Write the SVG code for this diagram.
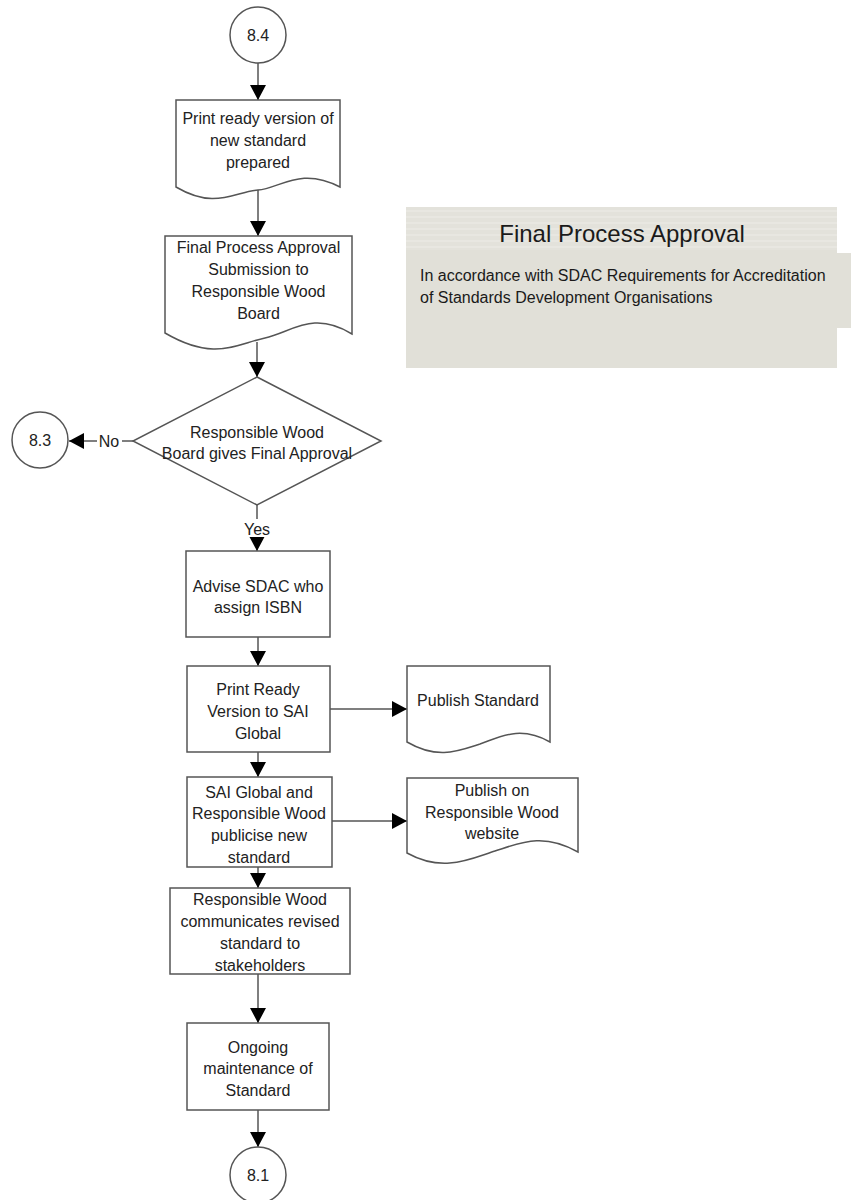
<svg xmlns="http://www.w3.org/2000/svg" width="851" height="1200" viewBox="0 0 851 1200">
<style>
.shape{fill:#fff;stroke:#555;stroke-width:1.5}
.conn{fill:none;stroke:#555;stroke-width:1.5}
.t{font-family:"Liberation Sans",Arial,sans-serif;font-size:16px;fill:#222;text-anchor:middle}
.lbl{font-family:"Liberation Sans",Arial,sans-serif;font-size:16px;fill:#222;text-anchor:middle}
.ptitle{font-family:"Liberation Sans",Arial,sans-serif;font-size:24px;fill:#1a1a1a;text-anchor:middle}
.pbody{font-family:"Liberation Sans",Arial,sans-serif;font-size:16px;fill:#1a1a1a}
</style>
<defs>
<marker id="arr" viewBox="0 0 15 16" refX="15" refY="8" markerWidth="15" markerHeight="16" markerUnits="userSpaceOnUse" orient="auto">
<path d="M0,0 L15,8 L0,16 z" fill="#000"/>
</marker>
<pattern id="stripes" width="10" height="6" patternUnits="userSpaceOnUse">
<rect width="10" height="6" fill="#e3e2db"/>
<rect y="0" width="10" height="2" fill="#e8e7e1"/>
</pattern>
</defs>
<rect width="851" height="1200" fill="#fff"/>

<g id="panel">
<rect x="837" y="253" width="14" height="75" fill="#e1e0d8"/>
<rect x="406" y="207" width="431" height="161" fill="#e1e0d8"/>
<rect x="406" y="207" width="431" height="43" fill="url(#stripes)"/>
<text class="ptitle" x="622" y="241.5">Final Process Approval</text>
<text class="pbody" x="420" y="281">In accordance with SDAC Requirements for Accreditation</text>
<text class="pbody" x="420" y="303">of Standards Development Organisations</text>
</g>

<g id="connectors">
<line class="conn" x1="258" y1="63" x2="258" y2="100" marker-end="url(#arr)"/>
<line class="conn" x1="258" y1="190" x2="258" y2="236" marker-end="url(#arr)"/>
<line class="conn" x1="257" y1="342" x2="257" y2="377" marker-end="url(#arr)"/>
<line class="conn" x1="152" y1="441" x2="69" y2="441" marker-end="url(#arr)"/>
<line class="conn" x1="257" y1="505" x2="257" y2="551" marker-end="url(#arr)"/>
<line class="conn" x1="258" y1="637" x2="258" y2="666" marker-end="url(#arr)"/>
<line class="conn" x1="330" y1="709" x2="407" y2="709" marker-end="url(#arr)"/>
<line class="conn" x1="258" y1="752" x2="258" y2="777" marker-end="url(#arr)"/>
<line class="conn" x1="327" y1="821" x2="407" y2="821" marker-end="url(#arr)"/>
<line class="conn" x1="258" y1="857" x2="258" y2="888" marker-end="url(#arr)"/>
<line class="conn" x1="258" y1="974" x2="258" y2="1023" marker-end="url(#arr)"/>
<line class="conn" x1="258" y1="1110" x2="258" y2="1147" marker-end="url(#arr)"/>
<rect x="97" y="432" width="25" height="18" fill="#fff"/>
<text class="lbl" x="109" y="446.5">No</text>
<rect x="243" y="519" width="28" height="18" fill="#fff"/>
<text class="lbl" x="257" y="534.5">Yes</text>
</g>

<g id="n84">
<circle class="shape" cx="258" cy="35" r="28"/>
<text class="t" x="258" y="40.5">8.4</text>
</g>

<g id="doc1">
<path class="shape" d="M176,100 H340 V187 C300,166 279,189 258,190 C234,192 215,210 176,187 Z"/>
</g>

<g id="doc2">
<path class="shape" d="M165,236 H352 V334 C313,310 292,332 265,338 C236,344 215,362 165,333 Z"/>
</g>

<g id="decision">
<path class="shape" d="M257,377 L381,441 L257,505 L133,441 Z"/>
</g>

<g id="n83">
<circle class="shape" cx="40" cy="440" r="28"/>
<text class="t" x="40" y="445.5">8.3</text>
</g>

<g id="box1">
<rect class="shape" x="186" y="551" width="144" height="86"/>
<text class="t" x="258" y="591.5">Advise SDAC who</text>
<text class="t" x="258" y="612.5">assign ISBN</text>
</g>

<g id="box2">
<rect class="shape" x="187" y="666" width="143" height="86"/>
<text class="t" x="258" y="694.5">Print Ready</text>
<text class="t" x="258" y="716.5">Version to SAI</text>
<text class="t" x="258" y="738.5">Global</text>
</g>

<g id="pubstd">
<path class="shape" d="M407,666 H550 V742 C520,725 500,737 480,744 C458,751 438,760 407,742 Z"/>
<text class="t" x="478" y="705.5">Publish Standard</text>
</g>

<g id="box3">
<rect class="shape" x="187" y="777" width="145" height="90"/>
</g>

<g id="pubweb">
<path class="shape" d="M407,778 H578 V852 C543,832 520,843 495,851 C470,859 443,873 407,853 Z"/>
<text class="t" x="492" y="795.5">Publish on</text>
<text class="t" x="492" y="817.5">Responsible Wood</text>
<text class="t" x="492" y="838.5">website</text>
</g>

<g id="box4">
<rect class="shape" x="170" y="888" width="180" height="86"/>
<text class="t" x="260" y="904.5">Responsible Wood</text>
<text class="t" x="260" y="926.5">communicates revised</text>
<text class="t" x="260" y="948.5">standard to</text>
<text class="t" x="260" y="970.5">stakeholders</text>
</g>

<g id="box5">
<rect class="shape" x="187" y="1023" width="142" height="87"/>
<text class="t" x="258" y="1052.5">Ongoing</text>
<text class="t" x="258" y="1073.5">maintenance of</text>
<text class="t" x="258" y="1095.5">Standard</text>
</g>

<g id="n81">
<circle class="shape" cx="258" cy="1175" r="28"/>
<text class="t" x="258" y="1180.5">8.1</text>
</g>

<g id="texts-over">
<text class="t" x="258" y="123.5">Print ready version of</text>
<text class="t" x="258" y="145.5">new standard</text>
<text class="t" x="258" y="167.5">prepared</text>
<text class="t" x="258.5" y="252.5">Final Process Approval</text>
<text class="t" x="258.5" y="274.5">Submission to</text>
<text class="t" x="258.5" y="296.5">Responsible Wood</text>
<text class="t" x="258.5" y="318.5">Board</text>
<text class="t" x="257" y="437.5">Responsible Wood</text>
<text class="t" x="257" y="458.5">Board gives Final Approval</text>
<text class="t" x="259" y="797.5">SAI Global and</text>
<text class="t" x="259" y="818.5">Responsible Wood</text>
<text class="t" x="259" y="840.5">publicise new</text>
<text class="t" x="259" y="862.5">standard</text>
</g>
</svg>
